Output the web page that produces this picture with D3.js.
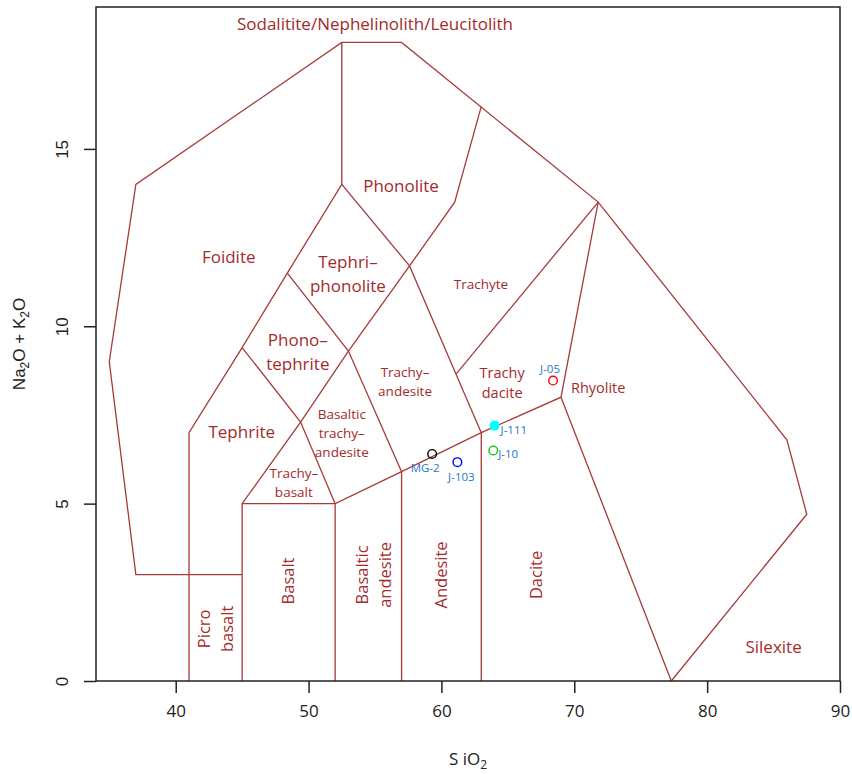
<!DOCTYPE html>
<html>
<head>
<meta charset="utf-8">
<script src="https://cdn.jsdelivr.net/npm/d3@7"></script>
<style>
  html, body { margin: 0; padding: 0; background: #fff; }
  svg { display: block; }
  .lbl { font-family: "Open Sans", "Noto Sans", sans-serif; fill: #a32b2b; }
</style>
</head>
<body>
<svg id="chart" width="852" height="774"></svg>
<script>
// Axis extents and ticks
const xDomain = [34, 90];
const yDomain = [0, 19];
const xTicks = [40, 50, 60, 70, 80, 90];
const yTicks = [0, 5, 10, 15];

// TAS field boundaries (SiO2, Na2O+K2O), each drawn as a polyline
const outerBoundary = [[45, 3], [37, 3], [35, 9], [37, 14], [52.5, 18], [57, 18], [71.8, 13.5], [86, 6.8], [87.5, 4.7], [77.3, 0]];
const fieldLines = [
  [[52.5, 18], [52.5, 14]],
  [[63, 16.2], [61, 13.5], [57.6, 11.7]],
  [[41, 0], [41, 7], [45, 9.4], [48.4, 11.5], [52.5, 14], [57.6, 11.7], [61.1, 8.65], [63, 7]],
  [[45, 0], [45, 5], [49.4, 7.3], [53, 9.3], [57.6, 11.7]],
  [[45, 9.4], [49.4, 7.3], [52, 5]],
  [[48.4, 11.5], [53, 9.3], [57, 5.9]],
  [[45, 5], [52, 5]],
  [[52, 0], [52, 5], [57, 5.9], [63, 7], [69, 8], [71.8, 13.5]],
  [[61.1, 8.65], [71.8, 13.5]],
  [[69, 8], [77.3, 0]],
  [[57, 0], [57, 5.9]],
  [[63, 0], [63, 7]]
];

// Field names: text lines, anchor (SiO2, alkalis), font size, rotation
const fieldNames = [
  { lines: ["Sodalitite/Nephelinolith/Leucitolith"], x: 55.0, y: 18.52, size: 17, rot: 0 },
  { lines: ["Phonolite"], x: 56.96, y: 13.96, size: 17, rot: 0 },
  { lines: ["Foidite"], x: 43.99, y: 11.95, size: 17, rot: 0 },
  { lines: ["Tephri–", "phonolite"], x: 52.96, y: 11.47, size: 17, rot: 0 },
  { lines: ["Trachyte"], x: 62.98, y: 11.19, size: 13.5, rot: 0 },
  { lines: ["Phono–", "tephrite"], x: 49.19, y: 9.28, size: 17, rot: 0 },
  { lines: ["Trachy–", "andesite"], x: 57.26, y: 8.43, size: 13.5, rot: 0 },
  { lines: ["Trachy", "dacite"], x: 64.57, y: 8.4, size: 14.5, rot: 0 },
  { lines: ["Rhyolite"], x: 71.8, y: 8.26, size: 14.5, rot: 0 },
  { lines: ["Tephrite"], x: 44.97, y: 7.02, size: 17, rot: 0 },
  { lines: ["Basaltic", "trachy–", "andesite"], x: 52.5, y: 6.99, size: 13.5, rot: 0 },
  { lines: ["Trachy–", "basalt"], x: 48.89, y: 5.58, size: 13.5, rot: 0 },
  { lines: ["Picro", "basalt"], x: 43.0, y: 1.47, size: 16.5, rot: -90 },
  { lines: ["Basalt"], x: 48.5, y: 2.82, size: 16.5, rot: -90 },
  { lines: ["Basaltic", "andesite"], x: 54.9, y: 2.99, size: 16.5, rot: -90 },
  { lines: ["Andesite"], x: 59.97, y: 2.99, size: 16.5, rot: -90 },
  { lines: ["Dacite"], x: 67.1, y: 2.99, size: 16.5, rot: -90 },
  { lines: ["Silexite"], x: 85.0, y: 0.96, size: 17, rot: 0 }
];

// Samples
const sampleNames = ["MG-2", "J-103", "J-111", "J-10", "J-05"];
const sampleSiO2 = [59.3, 61.2, 64.0, 63.9, 68.4];
const sampleAlkali = [6.4, 6.17, 7.2, 6.5, 8.47];
const sampleColors = ["#000000", "#0000ff", "#00ffff", "#00cd00", "#ff0000"];
const sampleFilled = [false, false, true, false, false];

const svg = d3.select("#chart");
const margin = { left: 96, right: 12, top: 7, bottom: 93 };
const W = 852, H = 774;
const x = d3.scaleLinear().domain(xDomain).range([margin.left, W - margin.right]);
const y = d3.scaleLinear().domain(yDomain).range([H - margin.bottom, margin.top]);

const lineColor = "#a83a3a";
const line = d3.line().x(d => x(d[0])).y(d => y(d[1]));

// Field boundaries
const gFields = svg.append("g");
gFields.append("path").attr("d", line(outerBoundary))
  .attr("fill", "none").attr("stroke", lineColor).attr("stroke-width", 1.3);
gFields.selectAll("path.field").data(fieldLines).join("path")
  .attr("class", "field").attr("d", line)
  .attr("fill", "none").attr("stroke", lineColor).attr("stroke-width", 1.3);

// Field names
const gNames = svg.append("g");
fieldNames.forEach(f => {
  const lh = f.size * 1.4;
  const t = gNames.append("text").attr("class", "lbl")
    .attr("font-size", f.size)
    .attr("text-anchor", "middle")
    .attr("transform", `translate(${x(f.x)},${y(f.y)}) rotate(${f.rot})`);
  const n = f.lines.length;
  f.lines.forEach((s, i) => {
    t.append("tspan").attr("x", 0)
      .attr("y", (i - (n - 1) / 2) * lh)
      .attr("dy", "0.35em").text(s);
  });
});

// Samples
const samples = sampleNames.map((name, i) => ({
  name, sx: sampleSiO2[i], sy: sampleAlkali[i], color: sampleColors[i], filled: sampleFilled[i]
}));
svg.append("g").selectAll("circle").data(samples).join("circle")
  .attr("cx", d => x(d.sx)).attr("cy", d => y(d.sy)).attr("r", 4.3)
  .attr("fill", d => d.filled ? d.color : "none")
  .attr("stroke", d => d.color).attr("stroke-width", 1.4);

// Sample labels placed around each symbol
const labelOffsets = { "MG-2": [-7, 14, "middle"], "J-103": [4, 15, "middle"], "J-111": [6, 4, "start"], "J-10": [5, 4, "start"], "J-05": [-3, -12, "middle"] };
svg.append("g").selectAll("text").data(samples).join("text")
  .attr("class", "lbl")
  .style("fill", "#1f77c8")
  .attr("font-size", 11.5)
  .attr("x", d => x(d.sx) + labelOffsets[d.name][0])
  .attr("y", d => y(d.sy) + labelOffsets[d.name][1])
  .attr("dy", "0.35em")
  .attr("text-anchor", d => labelOffsets[d.name][2])
  .text(d => d.name);

// Frame
svg.append("rect")
  .attr("x", x(xDomain[0])).attr("y", y(yDomain[1]))
  .attr("width", x(xDomain[1]) - x(xDomain[0]))
  .attr("height", y(yDomain[0]) - y(yDomain[1]))
  .attr("fill", "none").attr("stroke", "#222").attr("stroke-width", 1.5);

// Axes
const xAxis = d3.axisBottom(x).tickValues(xTicks).tickSize(12).tickPadding(12).tickFormat(d3.format("d"));
const gx = svg.append("g").attr("transform", `translate(0,${y(0)})`).call(xAxis);
gx.select(".domain").remove();
gx.selectAll("line").attr("stroke", "#222").attr("stroke-width", 1.5);
gx.selectAll("text").attr("font-family", "'Open Sans', sans-serif").attr("font-size", 17).attr("fill", "#222");

const yAxis = d3.axisLeft(y).tickValues(yTicks).tickSize(12).tickFormat(d3.format("d"));
const gy = svg.append("g").attr("transform", `translate(${x(xDomain[0])},0)`).call(yAxis);
gy.select(".domain").remove();
gy.selectAll("line").attr("stroke", "#222").attr("stroke-width", 1.5);
gy.selectAll("text")
  .attr("font-family", "'Liberation Sans', Arial, sans-serif").attr("font-size", 17).attr("fill", "#222")
  .attr("x", null).attr("dy", null)
  .attr("text-anchor", "middle")
  .attr("transform", "translate(-28,0) rotate(-90)");

// Axis titles
const xt = svg.append("text")
  .attr("font-family", "'Open Sans', sans-serif").attr("font-size", 17).attr("fill", "#222")
  .attr("text-anchor", "middle")
  .attr("x", (x(xDomain[0]) + x(xDomain[1])) / 2).attr("y", 765);
xt.append("tspan").text("S iO");
xt.append("tspan").attr("font-size", 12).attr("dy", 4).text("2");

const yt = svg.append("text")
  .attr("font-family", "'Liberation Sans', Arial, sans-serif").attr("font-size", 17).attr("fill", "#222")
  .attr("text-anchor", "middle")
  .attr("transform", `translate(25,${(y(0) + y(yDomain[1])) / 2}) rotate(-90)`);
yt.append("tspan").text("Na");
yt.append("tspan").attr("font-size", 12).attr("dy", 4).text("2");
yt.append("tspan").attr("dy", -4).text("O + K");
yt.append("tspan").attr("font-size", 12).attr("dy", 4).text("2");
yt.append("tspan").attr("dy", -4).text("O");
</script>
</body>
</html>
